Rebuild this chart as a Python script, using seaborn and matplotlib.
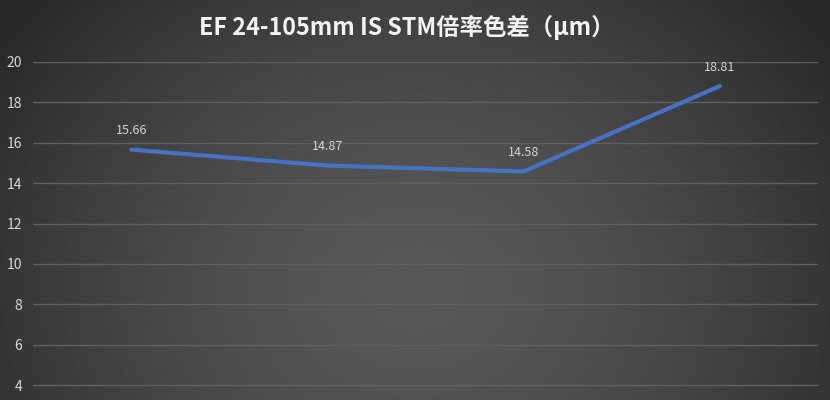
import numpy as np
import pandas as pd
import matplotlib
matplotlib.use("Agg")
import matplotlib.pyplot as plt
import seaborn as sns

# data
focal = ["24mm", "50mm", "70mm", "105mm"]
ca_um = [15.66, 14.87, 14.58, 18.81]
y_ticks = [4, 6, 8, 10, 12, 14, 16, 18, 20]
title = "EF 24-105mm IS STM倍率色差（μm）"

sns.set_theme(style="dark")
plt.rcParams["font.family"] = ["Noto Sans CJK SC", "DejaVu Sans"]

df = pd.DataFrame({"focal": focal, "ca": ca_um})

fig = plt.figure(figsize=(8.3, 4), dpi=100)

# dark radial-ish backdrop, lighter toward the lower middle
bg = fig.add_axes([0, 0, 1, 1], zorder=0)
xx, yy = np.meshgrid(np.linspace(0, 1, 400), np.linspace(0, 1, 200))
r = np.sqrt(((xx - 0.5) / 0.62) ** 2 + ((yy - 0.72) / 1.1) ** 2)
shade = np.clip(0.345 - 0.19 * r ** 1.6, 0.16, 0.36)
bg.imshow(shade, cmap="gray", vmin=0, vmax=1, aspect="auto",
          extent=[0, 1, 0, 1], interpolation="bilinear")
bg.set_axis_off()

# main axes: bottom of the plot runs off the figure (x axis not shown)
ax = fig.add_axes([0.040, -0.1645, 0.9455, 1.0095], zorder=1)
ax.set_facecolor("none")

sns.lineplot(data=df, x="focal", y="ca", ax=ax, color="#4472C4",
             linewidth=3, sort=False)

for i, v in enumerate(ca_um):
    ax.annotate(f"{v:.2f}", (i, v), xytext=(0, 9), textcoords="offset points",
                ha="center", va="bottom", color="#d4d4d4", fontsize=9)

ax.set_xlim(-0.5, len(focal) - 0.5)
ax.set_ylim(0, 20)
ax.set_yticks(y_ticks)
ax.set_yticklabels([str(t) for t in y_ticks], color="#d9d9d9", fontsize=10)
ax.tick_params(axis="y", length=0, pad=8)
ax.tick_params(axis="x", length=0, labelbottom=False)
ax.grid(axis="y", color="#606060", linewidth=1)
ax.grid(axis="x", visible=False)
ax.set_xlabel("")
ax.set_ylabel("")
for s in ax.spines.values():
    s.set_visible(False)

fig.text(0.49, 0.932, title, ha="center", va="center", color="#f2f2f2",
         fontsize=16.8, fontweight="bold")

fig.savefig("out.png", dpi=100)
